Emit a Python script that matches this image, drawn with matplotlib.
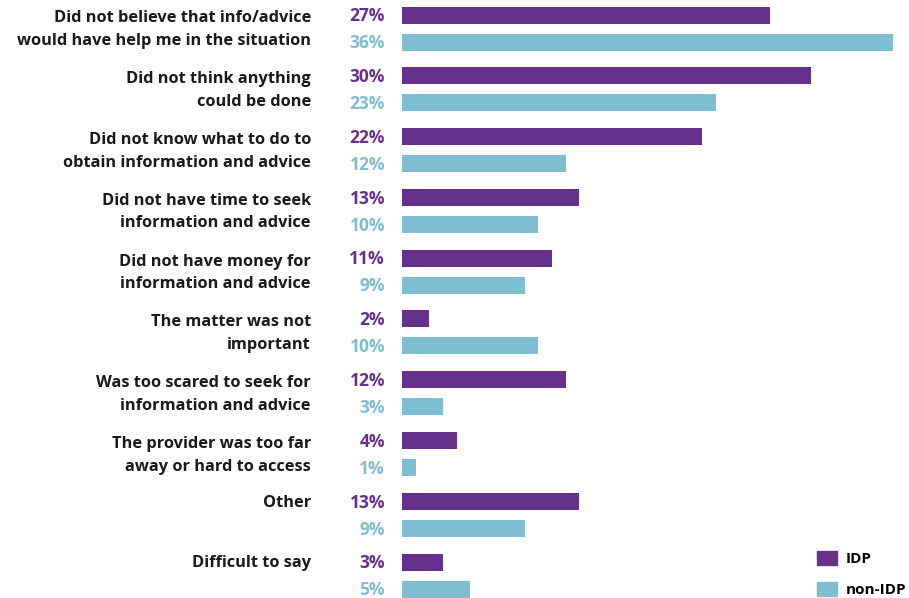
import matplotlib
matplotlib.use("Agg")
import matplotlib.pyplot as plt
from matplotlib.patches import Patch
from matplotlib.transforms import blended_transform_factory
import numpy as np

categories = [
    "Did not believe that info/advice\nwould have help me in the situation",
    "Did not think anything\ncould be done",
    "Did not know what to do to\nobtain information and advice",
    "Did not have time to seek\ninformation and advice",
    "Did not have money for\ninformation and advice",
    "The matter was not\nimportant",
    "Was too scared to seek for\ninformation and advice",
    "The provider was too far\naway or hard to access",
    "Other",
    "Difficult to say",
]
idp = [27, 30, 22, 13, 11, 2, 12, 4, 13, 3]
non_idp = [36, 23, 12, 10, 9, 10, 3, 1, 9, 5]
series_names = ["IDP", "non-IDP"]

PURPLE = "#66318A"
BLUE = "#7FBDD0"
FONT = "Open Sans"

fig = plt.figure(figsize=(9.09, 5.98), dpi=100)
ax = fig.add_axes([402 / 909, 0, (893 - 402) / 909, 1])
ax.set_xlim(0, max(non_idp + idp))
pitch = 60.8
ax.set_ylim((598 - 15) / pitch, (0 - 15) / pitch)
ax.axis("off")

y = np.arange(len(categories))
off = 27 / pitch
h = 17 / pitch
ax.barh(y, idp, height=h, color=PURPLE, align="center")
ax.barh(y + off, non_idp, height=h, color=BLUE, align="center")

tr_val = blended_transform_factory(fig.transFigure, ax.transData)
for i in range(len(categories)):
    ax.text(385 / 909, y[i] + 0.02, f"{idp[i]}%", transform=tr_val, ha="right", va="center",
            color=PURPLE, fontsize=12.5, fontweight="bold", family=FONT)
    ax.text(385 / 909, y[i] + off + 0.02, f"{non_idp[i]}%", transform=tr_val, ha="right", va="center",
            color=BLUE, fontsize=12.5, fontweight="bold", family=FONT)
    lab = categories[i]
    if "\n" in lab:
        ycat = y[i] + off / 2
    else:
        ycat = y[i]
    ax.text(311 / 909, ycat + 0.02, lab, transform=tr_val, ha="right", va="center",
            color="#1a1a1a", fontsize=11.8, fontweight="bold", family=FONT, linespacing=1.55)

handles = [Patch(color=PURPLE, label=series_names[0]), Patch(color=BLUE, label=series_names[1])]
leg = fig.legend(handles=handles, loc="lower left", bbox_to_anchor=(803 / 909, -0.022),
                 frameon=False, prop={"family": FONT, "weight": "bold", "size": 11},
                 handlelength=1.35, handleheight=1.0, labelspacing=1.05, handletextpad=0.55)

fig.savefig("out.png", dpi=100)
